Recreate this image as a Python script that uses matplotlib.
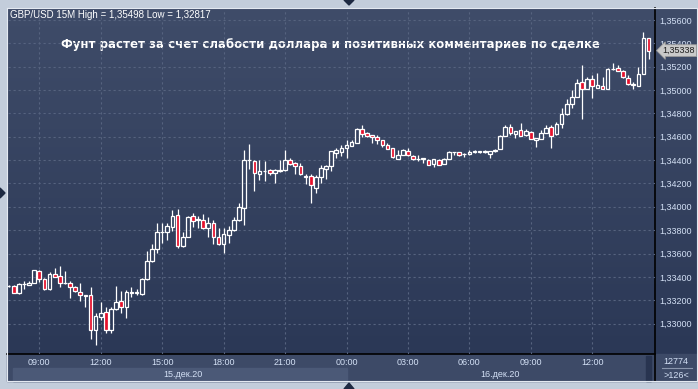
import numpy as np
import matplotlib.pyplot as plt
from matplotlib.colors import LinearSegmentedColormap
from matplotlib.patches import Rectangle, Polygon
from matplotlib.transforms import blended_transform_factory

# GBP/USD 15M candles, 15.12.20 07:30 .. 16.12.20 14:45
opens = [1.33322, 1.33322, 1.33259, 1.33339, 1.33330, 1.33350, 1.33448, 1.33379, 1.33293, 1.33425,
         1.33410, 1.33345, 1.33345, 1.33311, 1.33270, 1.33242, 1.33242, 1.32945, 1.33054, 1.33096,
         1.32945, 1.33121, 1.33193, 1.33139, 1.33270, 1.33264, 1.33251, 1.33379, 1.33538, 1.33636,
         1.33782, 1.33782, 1.33825, 1.33927, 1.33667, 1.33744, 1.33921, 1.33893, 1.33884, 1.33816,
         1.33859, 1.33741, 1.33679, 1.33756, 1.33799, 1.33884, 1.33987, 1.34401, 1.34392, 1.34278,
         1.34307, 1.34313, 1.34287, 1.34313, 1.34313, 1.34398, 1.34373, 1.34350, 1.34260, 1.34261,
         1.34164, 1.34258, 1.34321, 1.34352, 1.34463, 1.34472, 1.34506, 1.34523, 1.34544, 1.34666,
         1.34630, 1.34612, 1.34595, 1.34570, 1.34527, 1.34501, 1.34412, 1.34444, 1.34478, 1.34433,
         1.34407, 1.34413, 1.34401, 1.34367, 1.34401, 1.34364, 1.34412, 1.34469, 1.34467, 1.34448,
         1.34450, 1.34467, 1.34467, 1.34468, 1.34455, 1.34475, 1.34498, 1.34606, 1.34686, 1.34624,
         1.34658, 1.34612, 1.34638, 1.34570, 1.34581, 1.34630, 1.34681, 1.34621, 1.34707, 1.34792,
         1.34878, 1.34941, 1.35066, 1.35009, 1.35095, 1.35020, 1.35037, 1.35009, 1.35178, 1.35191,
         1.35163, 1.35106, 1.35049, 1.35037, 1.35140, 1.35443]
highs = [1.33330, 1.33333, 1.33345, 1.33367, 1.33365, 1.33459, 1.33459, 1.33388, 1.33444, 1.33472,
         1.33493, 1.33450, 1.33365, 1.33324, 1.33347, 1.33245, 1.33311, 1.33093, 1.33185, 1.33139,
         1.33139, 1.33322, 1.33279, 1.33285, 1.33311, 1.33293, 1.33390, 1.33619, 1.33681, 1.33863,
         1.33863, 1.33864, 1.33974, 1.33982, 1.33782, 1.33921, 1.33950, 1.33918, 1.33938, 1.33913,
         1.33887, 1.33822, 1.33822, 1.33836, 1.33913, 1.34030, 1.34489, 1.34538, 1.34401, 1.34401,
         1.34395, 1.34321, 1.34321, 1.34398, 1.34489, 1.34418, 1.34384, 1.34373, 1.34281, 1.34281,
         1.34270, 1.34356, 1.34358, 1.34478, 1.34506, 1.34527, 1.34572, 1.34572, 1.34672, 1.34701,
         1.34643, 1.34615, 1.34612, 1.34575, 1.34549, 1.34506, 1.34487, 1.34495, 1.34501, 1.34446,
         1.34441, 1.34417, 1.34410, 1.34410, 1.34412, 1.34414, 1.34474, 1.34470, 1.34469, 1.34463,
         1.34487, 1.34487, 1.34482, 1.34484, 1.34482, 1.34495, 1.34611, 1.34703, 1.34709, 1.34651,
         1.34720, 1.34669, 1.34649, 1.34589, 1.34655, 1.34701, 1.34701, 1.34729, 1.34844, 1.34923,
         1.35000, 1.35095, 1.35215, 1.35109, 1.35129, 1.35143, 1.35109, 1.35189, 1.35229, 1.35215,
         1.35172, 1.35129, 1.35072, 1.35195, 1.35498, 1.35445]
lows = [1.33313, 1.33259, 1.33253, 1.33293, 1.33328, 1.33348, 1.33359, 1.33290, 1.33290, 1.33400,
        1.33316, 1.33342, 1.33222, 1.33268, 1.33193, 1.33142, 1.32865, 1.32817, 1.33030, 1.32917,
        1.32917, 1.33116, 1.33088, 1.33044, 1.33230, 1.33242, 1.33246, 1.33373, 1.33530, 1.33602,
        1.33687, 1.33717, 1.33795, 1.33645, 1.33658, 1.33741, 1.33830, 1.33822, 1.33814, 1.33744,
        1.33684, 1.33670, 1.33607, 1.33686, 1.33793, 1.33876, 1.33847, 1.34326, 1.34138, 1.34232,
        1.34224, 1.34272, 1.34201, 1.34301, 1.34309, 1.34358, 1.34281, 1.34272, 1.34195, 1.34030,
        1.34116, 1.34206, 1.34241, 1.34309, 1.34415, 1.34435, 1.34421, 1.34521, 1.34543, 1.34600,
        1.34598, 1.34549, 1.34538, 1.34515, 1.34495, 1.34421, 1.34410, 1.34441, 1.34439, 1.34405,
        1.34392, 1.34373, 1.34358, 1.34341, 1.34354, 1.34363, 1.34410, 1.34446, 1.34433, 1.34429,
        1.34441, 1.34465, 1.34465, 1.34465, 1.34421, 1.34473, 1.34495, 1.34603, 1.34618, 1.34587,
        1.34606, 1.34610, 1.34578, 1.34515, 1.34578, 1.34628, 1.34501, 1.34615, 1.34672, 1.34786,
        1.34844, 1.34937, 1.34752, 1.35005, 1.34934, 1.35018, 1.35006, 1.35006, 1.35172, 1.35159,
        1.35101, 1.35043, 1.35009, 1.35035, 1.35138, 1.35263]
closes = [1.33322, 1.33264, 1.33339, 1.33342, 1.33350, 1.33456, 1.33379, 1.33293, 1.33425, 1.33403,
          1.33345, 1.33347, 1.33311, 1.33276, 1.33242, 1.33240, 1.32945, 1.33065, 1.33093, 1.32945,
          1.33121, 1.33185, 1.33139, 1.33270, 1.33264, 1.33266, 1.33379, 1.33538, 1.33636, 1.33782,
          1.33784, 1.33836, 1.33921, 1.33667, 1.33739, 1.33913, 1.33881, 1.33890, 1.33816, 1.33859,
          1.33744, 1.33684, 1.33771, 1.33799, 1.33884, 1.33996, 1.34401, 1.34398, 1.34287, 1.34307,
          1.34309, 1.34287, 1.34313, 1.34310, 1.34398, 1.34364, 1.34350, 1.34278, 1.34258, 1.34185,
          1.34253, 1.34330, 1.34350, 1.34478, 1.34487, 1.34501, 1.34529, 1.34552, 1.34666, 1.34621,
          1.34609, 1.34595, 1.34575, 1.34527, 1.34498, 1.34424, 1.34444, 1.34487, 1.34441, 1.34407,
          1.34409, 1.34415, 1.34361, 1.34407, 1.34356, 1.34410, 1.34469, 1.34467, 1.34441, 1.34450,
          1.34469, 1.34478, 1.34478, 1.34480, 1.34478, 1.34489, 1.34606, 1.34681, 1.34630, 1.34647,
          1.34609, 1.34649, 1.34581, 1.34587, 1.34632, 1.34678, 1.34609, 1.34709, 1.34792, 1.34881,
          1.34941, 1.35058, 1.35006, 1.35095, 1.35035, 1.35043, 1.35009, 1.35178, 1.35180, 1.35163,
          1.35112, 1.35049, 1.35047, 1.35140, 1.35448, 1.35338]

time_ticks = [6, 18, 30, 42, 54, 66, 78, 90, 102, 114]   # candle index of each label
time_labels = ['09:00', '12:00', '15:00', '18:00', '21:00', '00:00', '03:00', '06:00', '09:00', '12:00']
date_labels = ['15.дек.20', '16.дек.20']
price_ticks = [1.330, 1.332, 1.334, 1.336, 1.338, 1.340, 1.342, 1.344, 1.346, 1.348,
               1.350, 1.352, 1.354, 1.356]

title = 'Фунт растет за счет слабости доллара и позитивных комментариев по сделке'
info = 'GBP/USD 15M High = 1,35498 Low = 1,32817'

W, H = 698, 389
BG_TOP, BG_BOT = '#3f4c69', '#2b3856'
STRIP = '#3d4a67'
GRID = '#56637f'
TXT = '#d3e0f5'
RED = '#e5112c'


def px_box(x0, y0, x1, y1):
    return [x0 / W, 1 - y1 / H, (x1 - x0) / W, (y1 - y0) / H]


fig = plt.figure(figsize=(W / 100, H / 100), dpi=100, facecolor='#c3cddb')

# background frame drawn in pixel coords
frame = fig.add_axes([0, 0, 1, 1], zorder=0)
frame.set_xlim(0, W)
frame.set_ylim(H, 0)
frame.axis('off')
cmap = LinearSegmentedColormap.from_list('bg', [BG_TOP, BG_BOT])
frame.imshow(np.linspace(0, 1, 256).reshape(-1, 1), cmap=cmap, aspect='auto',
             extent=(7, 697, 354, 8), zorder=0)
frame.add_patch(Rectangle((7, 354), 690, 27, color=STRIP, zorder=1))
frame.add_patch(Rectangle((13, 368), 334, 12.5, color='#4b5977', zorder=1))
frame.add_patch(Rectangle((646, 356), 5, 25, color='#283450', zorder=1))
frame.plot([655, 655], [8, 381], color='black', lw=1.2, zorder=2)
frame.plot([7, 655], [354, 354], color='black', lw=1.2, zorder=2)
frame.plot([7, 697, 697, 7, 7], [8, 8, 381, 381, 8], color='#e4e9f1', lw=0.8, zorder=2)
frame.plot([662, 692], [367.5, 367.5], color='#8a96ad', lw=0.8, zorder=2)
frame.text(676, 361, '12774', color=TXT, fontsize=6.5, family='Liberation Sans',
           ha='center', va='center')
frame.text(676, 375, '>126<', color=TXT, fontsize=6.5, family='Liberation Sans',
           ha='center', va='center')
# little scroll arrows around the frame
frame.add_patch(Polygon([[344, 0], [354, 0], [349, 5]], color='#1d2942', zorder=3))
frame.add_patch(Polygon([[344, 389], [354, 389], [349, 383]], color='#1d2942', zorder=3))
frame.add_patch(Polygon([[0, 188], [0, 198], [5, 193]], color='#1d2942', zorder=3))
frame.text(10, 14.5, info, color='white', fontsize=7, family='Liberation Sans',
           ha='left', va='center', zorder=3)
frame.text(330, 44, title, color='white', fontsize=8.5, fontweight='bold',
           family='DejaVu Sans', ha='center', va='center', zorder=3)

ax = fig.add_axes(px_box(8, 9, 655, 354), zorder=2)
ax.set_facecolor('none')
for s in ax.spines.values():
    s.set_visible(False)

x = np.arange(len(opens))
o = np.array(opens)
c = np.array(closes)
hi = np.array(highs)
lo = np.array(lows)
top = np.maximum(o, c)
bot = np.minimum(o, c)
up = c >= o

ax.vlines(x, top, hi, color='white', lw=0.9, zorder=3)
ax.vlines(x, lo, bot, color='white', lw=0.9, zorder=3)
ax.bar(x[up], (top - bot)[up], bottom=bot[up], width=0.72, facecolor='none',
       edgecolor='white', lw=0.9, zorder=4)
ax.bar(x[~up], (top - bot)[~up], bottom=bot[~up], width=0.72, facecolor=RED,
       edgecolor='white', lw=0.9, zorder=4)

ax.set_xlim(-0.12, 126.25)
ax.set_ylim(1.327392, 1.356942)

ax.set_xticks(time_ticks)
ax.set_xticklabels(time_labels)
ax.set_yticks(price_ticks)
ax.set_yticklabels([f'{v:.5f}'.replace('.', ',') for v in price_ticks])
ax.yaxis.tick_right()
ax.tick_params(axis='both', length=0, colors=TXT, labelsize=6.5)
ax.tick_params(axis='x', pad=3)
ax.tick_params(axis='y', pad=3)
for lab in ax.get_xticklabels() + ax.get_yticklabels():
    lab.set_family('Liberation Sans')
ax.grid(True, color=GRID, lw=0.8, linestyle=(0, (2, 2.5)), zorder=1)

trans = blended_transform_factory(ax.transData, ax.transAxes)
ax.text(34, -0.058, date_labels[0], transform=trans, color=TXT, fontsize=6.5,
        family='Liberation Sans', ha='center', va='center')
ax.text(96, -0.058, date_labels[1], transform=trans, color=TXT, fontsize=6.5,
        family='Liberation Sans', ha='center', va='center')

# last price marker on the price scale
ptrans = blended_transform_factory(ax.transAxes, ax.transData)
ax.text(1.012, closes[-1], f'{closes[-1]:.5f}'.replace('.', ','), transform=ptrans,
        color='#1e1e1e', fontsize=6.5, family='Liberation Sans', ha='left', va='center',
        bbox=dict(boxstyle='larrow,pad=0.15', fc='#c9c9c9', ec='#9a9a9a', lw=0.6),
        clip_on=False, zorder=6)

fig.savefig('out.png', dpi=100, facecolor=fig.get_facecolor())
